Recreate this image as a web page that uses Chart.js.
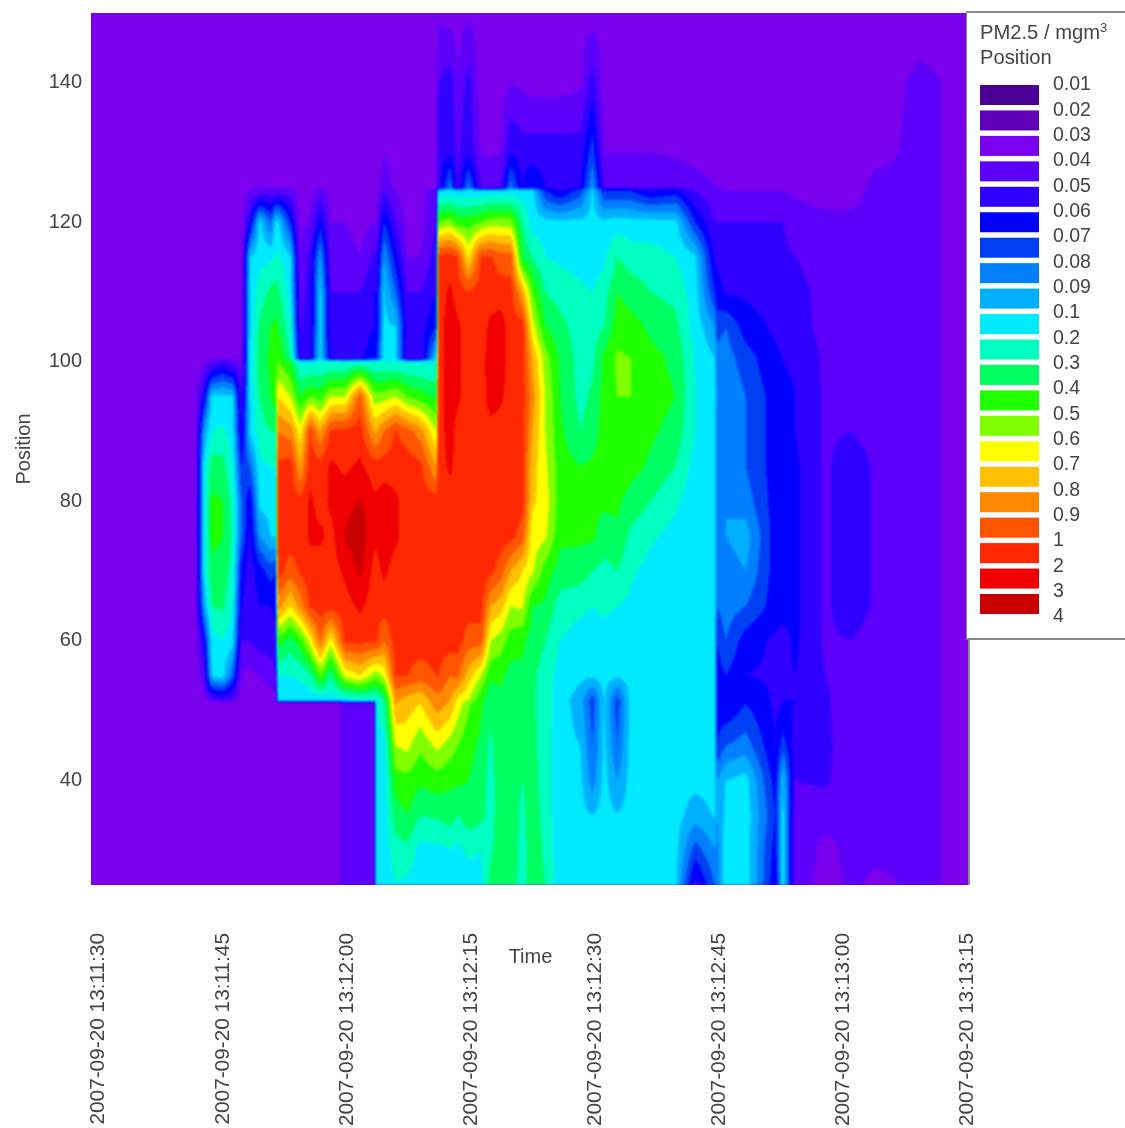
<!DOCTYPE html>
<html>
<head>
<meta charset="utf-8">
<title>PM2.5 contour</title>
<script src="https://cdn.jsdelivr.net/npm/chart.js@4/dist/chart.umd.min.js"></script>
<style>
  html, body { margin: 0; padding: 0; background: #fff; overflow: hidden; }
  canvas { display: block; }
</style>
</head>
<body>
<canvas id="contour" width="1125" height="1128"></canvas>
<script>
// contour levels (legend labels) and the fill of each band between two levels
const levelLabels = ["0.01","0.02","0.03","0.04","0.05","0.06","0.07","0.08","0.09","0.1","0.2","0.3","0.4","0.5","0.6","0.7","0.8","0.9","1","2","3","4"];
const bandColors = ["#4b0096","#5f00b8","#7a00ee","#5c00fa","#3000ff","#0000ff","#0040f5","#0080ff","#00b0ff","#00eaff","#00ffc0","#00ff60","#20ff00","#80ff00","#ffff00","#ffc000","#ff8800","#ff5500","#ff2800","#f00000","#c80000"];

const tickSeconds = [0, 15, 30, 45, 60, 75, 90, 105];
const tickLabels = ["2007-09-20 13:11:30","2007-09-20 13:11:45","2007-09-20 13:12:00","2007-09-20 13:12:15","2007-09-20 13:12:30","2007-09-20 13:12:45","2007-09-20 13:13:00","2007-09-20 13:13:15"];

// seconds after 13:11:30 of each sampled column
const seconds = [-0.8,11.8,12.8,13.8,15.1,16.3,17.4,18.4,19.6,20.9,21.5,21.8,23.3,24.5,25.7,26.9,28.2,29.9,31.7,33.4,33.7,34.6,36,37.4,39,40.9,41.2,42.6,43.5,44.8,46.3,47.5,48.7,49.9,51.3,52.5,54.1,55.9,58.3,59.8,61.2,62.8,64.4,66.8,69.8,72.2,74.6,74.8,75.9,78.3,81.9,82.8,84.3,88,91,94,99.5,105.4];
const positions = [25,30,35,40,45,51,51.5,55,60,65,70,75,80,85,90,95,100,100.5,105,110,115,120,124.5,125,130,140,150];

// PM2.5 (mg/m3), one line per time column, bottom position first
const pm = [
[.035,.035,.035,.035,.035,.035,.035,.035,.035,.035,.035,.035,.035,.035,.035,.035,.035,.035,.035,.035,.035,.035,.035,.035,.035,.035,.035],
[.035,.035,.035,.035,.035,.035,.035,.035,.035,.035,.035,.035,.035,.035,.035,.035,.035,.035,.035,.035,.035,.035,.035,.035,.035,.035,.035],
[.035,.035,.035,.035,.035,.035,.035,.045,.06,.09,.12,.13,.13,.12,.09,.06,.037,.035,.035,.035,.035,.035,.035,.035,.035,.035,.035],
[.035,.035,.035,.035,.035,.037,.045,.1,.16,.3,.38,.42,.42,.35,.2,.12,.045,.037,.035,.035,.035,.035,.035,.035,.035,.035,.035],
[.035,.035,.035,.035,.035,.038,.05,.14,.2,.32,.38,.4,.4,.34,.22,.13,.052,.038,.035,.035,.035,.035,.035,.035,.035,.035,.035],
[.035,.035,.035,.035,.035,.037,.045,.08,.14,.2,.25,.28,.26,.2,.15,.11,.045,.037,.035,.035,.035,.035,.035,.035,.035,.035,.035],
[.035,.035,.035,.035,.035,.035,.035,.04,.05,.06,.065,.08,.08,.07,.058,.05,.04,.038,.036,.036,.036,.036,.035,.035,.035,.035,.035],
[.035,.035,.035,.035,.035,.035,.035,.036,.05,.055,.055,.058,.062,.08,.11,.13,.14,.14,.13,.12,.1,.06,.04,.038,.036,.035,.035],
[.035,.035,.035,.035,.035,.035,.035,.04,.055,.06,.065,.09,.13,.18,.25,.3,.35,.35,.32,.25,.16,.13,.042,.04,.036,.035,.035],
[.035,.035,.035,.035,.035,.035,.035,.045,.055,.06,.075,.1,.14,.2,.3,.4,.42,.42,.4,.32,.18,.08,.045,.04,.036,.035,.035],
[.035,.035,.035,.035,.035,.035,.035,.05,.058,.062,.07,.11,.15,.2,.3,.45,.45,.45,.42,.35,.2,.13,.045,.04,.036,.035,.035],
[.035,.035,.035,.035,.035,.035,.13,.2,.45,.85,1.5,1.5,1.5,1.2,.9,.7,.5,.48,.4,.32,.22,.13,.045,.04,.036,.035,.035],
[.035,.035,.035,.035,.035,.035,.13,.2,.35,.7,.95,1.5,1.5,1.5,.85,.6,.4,.3,.22,.16,.12,.07,.045,.04,.035,.035,.035],
[.035,.035,.035,.035,.035,.035,.13,.22,.45,.85,1.2,1.5,1.3,.8,.65,.4,.18,.06,.05,.045,.04,.036,.035,.035,.035,.035,.035],
[.035,.035,.035,.035,.035,.035,.13,.28,.65,1.2,1.5,2.2,2.2,1.6,1.05,.5,.18,.06,.055,.055,.055,.042,.035,.035,.035,.035,.035],
[.035,.035,.035,.035,.035,.035,.14,.5,.9,1.5,1.5,2.2,1.6,1.5,.8,.45,.2,.13,.12,.11,.09,.065,.045,.04,.037,.035,.035],
[.036,.036,.036,.036,.036,.036,.14,.3,.65,1.5,1.5,1.7,2.2,2.2,1.2,.6,.2,.058,.052,.05,.045,.04,.036,.036,.035,.035,.035],
[.042,.042,.042,.042,.042,.042,.16,.62,1.2,1.6,2.2,3.1,2.6,1.8,1.3,.6,.2,.055,.052,.05,.045,.04,.036,.036,.035,.035,.035],
[.044,.044,.044,.044,.044,.044,.2,.7,1.3,2.2,3.2,3.7,3.1,2.2,1.5,.95,.22,.056,.052,.05,.04,.036,.035,.035,.035,.035,.035],
[.046,.046,.046,.046,.046,.046,.2,.55,1.1,1.5,1.7,2.2,2.2,1.5,.8,.55,.2,.07,.06,.06,.052,.04,.036,.036,.035,.035,.035],
[.15,.15,.15,.16,.17,.2,.2,.55,1.1,1.5,1.7,2.2,2.2,1.5,.8,.55,.2,.07,.06,.06,.052,.04,.036,.036,.035,.035,.035],
[.15,.15,.15,.15,.16,.28,.3,.62,.9,1.5,2.2,2.6,2.6,1.5,.9,.55,.2,.15,.13,.11,.09,.07,.05,.045,.04,.035,.035],
[.2,.25,.35,.45,.6,.8,.82,1.05,1.5,1.5,1.6,2.2,2.2,1.5,1.1,.6,.2,.12,.1,.08,.065,.05,.04,.038,.036,.035,.035],
[.17,.28,.4,.47,.63,.75,.76,1,1.5,1.5,1.5,1.6,1.6,1.5,.95,.5,.18,.05,.055,.05,.04,.036,.035,.035,.035,.035,.035],
[.15,.16,.3,.42,.52,.7,.72,.95,1.5,1.5,1.5,1.5,1.5,1.3,.85,.45,.18,.05,.055,.05,.04,.036,.035,.035,.035,.035,.035],
[.15,.17,.32,.45,.62,.85,.86,1,1.5,1.6,1.6,1.6,1.5,.8,.6,.38,.18,.1,.07,.06,.055,.05,.05,.04,.037,.035,.035],
[.15,.17,.32,.45,.62,.85,.86,1,1.5,1.6,1.6,1.6,1.5,1.5,1.5,1.5,1.5,1.5,1.5,1.5,1.3,.5,.12,.055,.055,.05,.038],
[.15,.2,.35,.42,.55,.78,.8,.9,1.5,1.5,1.5,1.5,1.5,2.2,2.5,2.6,2.6,2.6,2.6,2.2,1.5,.55,.14,.085,.058,.055,.036],
[.15,.17,.3,.42,.5,.66,.68,.92,1.5,1.5,1.5,1.5,1.5,1.6,1.6,2.2,2.2,2.2,2.2,1.5,1,.45,.12,.05,.048,.04,.035],
[.15,.22,.36,.4,.43,.52,.6,.75,.95,1.5,1.5,1.5,1.5,1.5,1.5,1.5,1.5,1.5,1.5,1.05,.68,.45,.13,.085,.058,.055,.038],
[.16,.2,.33,.36,.38,.42,.42,.6,.95,1.5,1.5,1.5,1.5,1.5,1.5,1.5,1.6,1.6,1.6,1.5,1,.5,.14,.05,.04,.035,.035],
[.35,.28,.25,.25,.28,.33,.33,.42,.6,.8,1.3,1.5,1.5,1.5,1.6,2.5,2.5,2.5,2.2,1.6,1.1,.55,.14,.05,.038,.036,.035],
[.38,.38,.38,.38,.38,.38,.38,.42,.55,.75,.95,1.5,1.5,1.5,1.5,2.2,2.5,2.5,2.5,1.5,.95,.55,.14,.05,.04,.035,.035],
[.38,.38,.38,.36,.36,.35,.35,.36,.45,.6,.8,1.4,1.5,1.5,1.5,1.5,1.5,1.5,1.5,1.4,.95,.55,.14,.085,.06,.04,.035],
[.24,.25,.27,.3,.34,.36,.36,.38,.42,.62,.7,.95,1.5,1.5,1.5,1.5,1.5,1.5,1.5,.8,.38,.3,.15,.06,.055,.038,.035],
[.36,.36,.36,.34,.33,.32,.32,.32,.35,.4,.62,.65,.72,.75,.8,.85,.8,.8,.65,.5,.3,.16,.14,.07,.055,.036,.035],
[.3,.28,.26,.25,.25,.25,.25,.26,.3,.38,.45,.62,.65,.62,.6,.6,.55,.55,.4,.3,.2,.14,.07,.06,.055,.036,.035],
[.13,.13,.13,.14,.14,.15,.15,.15,.2,.25,.36,.42,.45,.45,.42,.4,.38,.38,.33,.26,.18,.13,.06,.055,.055,.036,.035],
[.13,.13,.13,.13,.1,.095,.095,.13,.16,.22,.35,.42,.42,.4,.3,.27,.26,.26,.25,.22,.16,.13,.075,.06,.055,.038,.035],
[.13,.12,.1,.085,.08,.075,.075,.12,.15,.2,.3,.42,.42,.42,.35,.32,.28,.28,.25,.2,.15,.13,.12,.09,.075,.055,.036],
[.14,.14,.14,.14,.12,.11,.11,.14,.16,.22,.27,.35,.42,.45,.45,.44,.42,.42,.3,.25,.18,.13,.07,.05,.04,.035,.035],
[.14,.13,.105,.09,.08,.075,.075,.12,.15,.2,.3,.38,.42,.46,.47,.5,.52,.52,.45,.4,.3,.15,.07,.05,.04,.035,.035],
[.14,.14,.14,.14,.14,.14,.14,.14,.15,.18,.22,.28,.36,.44,.47,.5,.5,.5,.44,.36,.25,.14,.07,.05,.04,.035,.035],
[.14,.14,.14,.14,.14,.14,.14,.14,.13,.13,.16,.22,.3,.38,.42,.45,.43,.43,.38,.3,.24,.14,.06,.05,.04,.036,.036],
[.13,.14,.14,.14,.14,.14,.14,.14,.14,.14,.14,.16,.22,.3,.36,.4,.38,.38,.33,.27,.2,.13,.065,.05,.038,.036,.036],
[.055,.075,.095,.13,.14,.14,.14,.14,.14,.14,.14,.14,.13,.16,.2,.2,.19,.19,.16,.14,.12,.07,.05,.045,.036,.035,.035],
[.08,.09,.11,.13,.14,.14,.14,.14,.14,.14,.14,.14,.14,.13,.12,.11,.1,.1,.09,.07,.058,.05,.042,.04,.036,.035,.035],
[.085,.085,.09,.09,.07,.065,.065,.065,.07,.08,.08,.085,.085,.085,.085,.09,.085,.085,.075,.065,.058,.05,.042,.04,.036,.035,.035],
[.16,.16,.13,.1,.08,.06,.06,.07,.08,.085,.085,.09,.09,.09,.09,.09,.085,.085,.08,.058,.056,.05,.04,.04,.036,.035,.035],
[.16,.16,.16,.14,.085,.07,.07,.06,.065,.08,.09,.095,.085,.08,.08,.08,.075,.075,.065,.058,.056,.05,.04,.038,.036,.035,.035],
[.062,.065,.07,.065,.06,.058,.058,.058,.058,.065,.065,.065,.065,.065,.065,.065,.062,.062,.058,.056,.054,.05,.04,.038,.036,.035,.035],
[.15,.15,.13,.1,.075,.06,.06,.058,.056,.064,.064,.064,.064,.064,.064,.064,.06,.06,.055,.055,.052,.05,.04,.038,.036,.035,.035],
[.045,.045,.045,.05,.055,.06,.06,.06,.062,.062,.062,.062,.062,.062,.06,.06,.058,.058,.055,.055,.05,.045,.038,.037,.036,.035,.035],
[.036,.038,.042,.052,.053,.052,.052,.05,.048,.048,.048,.048,.048,.048,.048,.048,.048,.048,.046,.045,.043,.042,.037,.036,.036,.035,.035],
[.042,.042,.042,.042,.042,.042,.042,.042,.05,.058,.058,.058,.058,.058,.05,.042,.042,.042,.042,.042,.042,.042,.037,.037,.036,.036,.035],
[.038,.042,.042,.042,.042,.042,.042,.042,.044,.048,.048,.048,.048,.048,.045,.042,.042,.042,.042,.042,.042,.042,.042,.042,.038,.036,.036],
[.042,.042,.042,.042,.042,.042,.042,.042,.042,.042,.042,.042,.042,.042,.042,.042,.042,.042,.042,.042,.042,.042,.042,.042,.042,.042,.036],
[.037,.037,.037,.037,.037,.037,.037,.037,.037,.037,.037,.037,.037,.037,.037,.037,.037,.037,.037,.037,.037,.037,.037,.037,.037,.037,.037]
];

const levels = levelLabels.map(Number);
const textColor = "#444";
const fontName = "'Liberation Sans', Arial, sans-serif";

// value -> position on the level list, so that every band has the same weight
function levelIndex(v) {
  for (let i = 0; i < levels.length - 1; i++) {
    if (v < levels[i + 1]) return i + (v - levels[i]) / (levels[i + 1] - levels[i]);
  }
  return levels.length - 1.001;
}
const grid = pm.map(col => col.map(levelIndex));

function findCell(list, v) {
  let i = 0;
  while (i < list.length - 2 && v > list[i + 1]) i++;
  const f = (v - list[i]) / (list[i + 1] - list[i]);
  return [i, Math.max(0, Math.min(1, f))];
}

const contourPlugin = {
  id: "contour",
  beforeDatasetsDraw(chart) {
    const { ctx, chartArea: area, scales } = chart;
    const w = Math.round(area.right - area.left);
    const h = Math.round(area.bottom - area.top);
    const off = document.createElement("canvas");
    off.width = w;
    off.height = h;
    const offCtx = off.getContext("2d");
    for (let py = 0; py < h; py++) {
      const [r, fr] = findCell(positions, scales.y.getValueForPixel(area.top + py + 0.5));
      for (let px = 0; px < w; px++) {
        const [c, fc] = findCell(seconds, scales.x.getValueForPixel(area.left + px + 0.5));
        const low = grid[c][r] * (1 - fc) + grid[c + 1][r] * fc;
        const high = grid[c][r + 1] * (1 - fc) + grid[c + 1][r + 1] * fc;
        const band = Math.floor(low * (1 - fr) + high * fr);
        offCtx.fillStyle = bandColors[Math.max(0, Math.min(bandColors.length - 1, band))];
        offCtx.fillRect(px, py, 1, 1);
      }
    }
    ctx.save();
    ctx.beginPath();
    ctx.rect(area.left, area.top, w, h);
    ctx.clip();
    ctx.fillStyle = bandColors[2];
    ctx.fillRect(area.left, area.top, w, h);
    ctx.filter = "blur(1.2px)";
    ctx.drawImage(off, area.left, area.top);
    ctx.restore();
  }
};

const legendPlugin = {
  id: "contourLegend",
  afterDraw(chart) {
    const ctx = chart.ctx;
    ctx.save();
    // plot edge below the legend
    ctx.fillStyle = "#8a8a8a";
    ctx.fillRect(968, 638, 2, 247);
    ctx.fillStyle = "#fff";
    ctx.fillRect(966, 12, 159, 626);
    ctx.fillStyle = "#8a8a8a";
    ctx.fillRect(966, 11, 159, 2);
    ctx.fillRect(966, 638, 159, 2);
    ctx.fillRect(966, 11, 1, 629);

    ctx.fillStyle = textColor;
    ctx.textBaseline = "middle";
    ctx.textAlign = "left";
    ctx.font = "20.2px " + fontName;
    ctx.fillText("PM2.5 / mgm", 980, 33);
    const unitWidth = ctx.measureText("PM2.5 / mgm").width;
    ctx.fillText("Position", 980, 58);
    ctx.font = "13px " + fontName;
    ctx.fillText("3", 980 + unitWidth, 28);

    ctx.font = "19.5px " + fontName;
    levelLabels.forEach((label, i) => {
      ctx.fillStyle = textColor;
      ctx.fillText(label, 1053, 85 + i * 25.33);
    });
    bandColors.forEach((color, i) => {
      ctx.fillStyle = color;
      ctx.fillRect(980, 85 + i * 25.45, 59, 20);
    });
    ctx.restore();
  }
};

// the cells go through the chart as a dataset; the plugin above paints them
const cells = [];
seconds.forEach((x, c) => positions.forEach((y, r) => cells.push({ x, y, v: pm[c][r] })));

new Chart(document.getElementById("contour").getContext("2d"), {
  type: "scatter",
  data: { datasets: [{ label: "PM2.5", data: cells, pointRadius: 0, showLine: false }] },
  plugins: [contourPlugin, legendPlugin],
  options: {
    responsive: false,
    animation: false,
    layout: { padding: { top: 13, right: 155, left: 0, bottom: 0 } },
    plugins: { legend: { display: false }, tooltip: { enabled: false } },
    scales: {
      x: {
        type: "linear",
        min: seconds[0],
        max: seconds[seconds.length - 1],
        grid: { display: false },
        border: { display: false },
        afterBuildTicks(scale) { scale.ticks = tickSeconds.map(value => ({ value })); },
        afterFit(scale) { scale.height = 243; scale.paddingLeft = 0; scale.paddingRight = 0; },
        title: { display: true, text: "Time", color: textColor, font: { family: fontName, size: 20 }, padding: { top: 0, bottom: 159 } },
        ticks: {
          autoSkip: false,
          minRotation: 90,
          maxRotation: 90,
          padding: 40,
          labelOffset: 1,
          color: textColor,
          font: { family: fontName, size: 20.8 },
          callback(value) { return tickLabels[tickSeconds.indexOf(value)]; }
        }
      },
      y: {
        type: "linear",
        min: 25,
        max: 150,
        grid: { display: false },
        border: { display: false },
        afterBuildTicks(scale) { scale.ticks = [40, 60, 80, 100, 120, 140].map(value => ({ value })); },
        afterFit(scale) { scale.width = 91; scale.paddingTop = 0; scale.paddingBottom = 0; },
        title: { display: true, text: "Position", color: textColor, font: { family: fontName, size: 20 }, padding: { top: 12, bottom: 0 } },
        ticks: { padding: 1, color: textColor, font: { family: fontName, size: 20 } }
      }
    }
  }
});
</script>
</body>
</html>
